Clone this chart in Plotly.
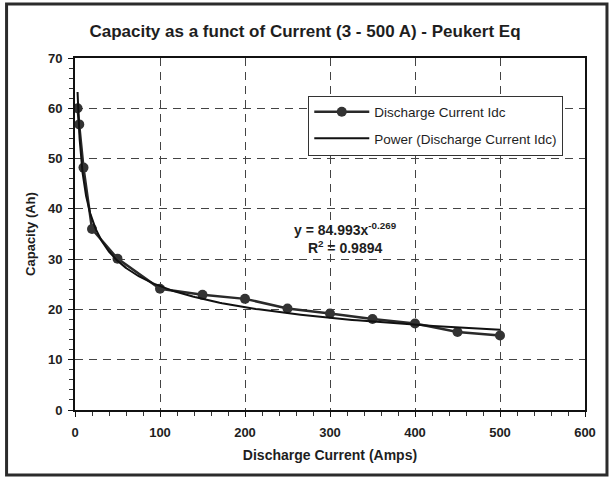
import numpy as np
import plotly.graph_objects as go

# Measured capacity at each discharge current
current_amps = [3, 5, 10, 20, 50, 100, 150, 200, 250, 300, 350, 400, 450, 500]
capacity_ah = [60.0, 56.8, 48.2, 36.0, 30.1, 24.1, 22.9, 22.1, 20.2, 19.2, 18.1, 17.2, 15.5, 14.8]

# Peukert power-law fit: y = a * x^b
fit_a = 84.993
fit_b = -0.269
fit_r2 = 0.9894

x_ticks = [0, 100, 200, 300, 400, 500, 600]
y_ticks = [0, 10, 20, 30, 40, 50, 60, 70]

FONT = "Liberation Sans, Arial, sans-serif"
INK = "#1e1e1e"

fit_x = np.geomspace(min(current_amps), max(current_amps), 300)
fit_y = fit_a * fit_x ** fit_b

fig = go.Figure()
fig.add_trace(go.Scatter(
    x=current_amps, y=capacity_ah, mode="lines+markers",
    name="Discharge Current Idc", legendgroup="a",
    line=dict(color="#2a2a2a", width=2.5),
    marker=dict(color="#333333", size=10, symbol="circle"),
))
fig.add_trace(go.Scatter(
    x=fit_x, y=fit_y, mode="lines",
    name="Power (Discharge Current Idc)", legendgroup="b",
    line=dict(color="#111111", width=2),
))

grid = dict(showgrid=True, gridcolor="#444444", gridwidth=1, griddash="8px,6px",
            showline=True, linecolor="#111111", linewidth=2, mirror=True,
            ticks="outside", ticklen=5, tickcolor="#111111", tickwidth=1,
            zeroline=False,
            tickfont=dict(family=FONT, size=13, color=INK, weight="bold"))

fig.update_xaxes(range=[0, 600], tickvals=x_ticks, ticklabelstandoff=4,
                 minor=dict(dtick=20, ticks="outside", ticklen=4, tickcolor="#333333", showgrid=False),
                 title=dict(text="Discharge Current (Amps)", standoff=12,
                            font=dict(family=FONT, size=14, color=INK, weight="bold")),
                 **grid)
fig.update_yaxes(range=[0, 70], tickvals=y_ticks, ticklabelstandoff=3,
                 minor=dict(dtick=2, ticks="outside", ticklen=4, tickcolor="#333333", showgrid=False),
                 title=dict(text="Capacity (Ah)", standoff=9,
                            font=dict(family=FONT, size=13, color=INK, weight="bold")),
                 **grid)

fig.add_annotation(
    x=318, y=34.2, xref="x", yref="y", showarrow=False, align="center",
    text=f"y = {fit_a:.3f}x<sup>{fit_b:.3f}</sup><br>R<sup>2</sup> = {fit_r2:.4f}",
    font=dict(family=FONT, size=14, color=INK, weight="bold"),
)

# Outer chart frame
fig.add_shape(type="rect", xref="paper", yref="paper",
              x0=(6 - 74.5) / 510.5, x1=(607 - 74.5) / 510.5,
              y0=(410 - 475) / 352, y1=(410 - 4) / 352,
              line=dict(color="#2b2b2b", width=3), layer="below")

fig.update_layout(
    width=610, height=481,
    margin=dict(l=74.5, r=25, t=58, b=71),
    paper_bgcolor="white", plot_bgcolor="white",
    title=dict(text="Capacity as a funct of Current (3 - 500 A) - Peukert Eq",
               x=0.5, xref="container", xanchor="center", y=1 - 31 / 481, yanchor="middle",
               font=dict(family=FONT, size=17, color=INK, weight="bold")),
    legend=dict(x=(308 - 74.5) / 510.5, y=(410 - 95.5) / 352, xanchor="left", yanchor="top",
                bgcolor="white", bordercolor="#333333", borderwidth=1,
                tracegroupgap=6, itemwidth=55,
                font=dict(family=FONT, size=13.5, color=INK)),
    showlegend=True,
)

fig.write_html("out.html")
